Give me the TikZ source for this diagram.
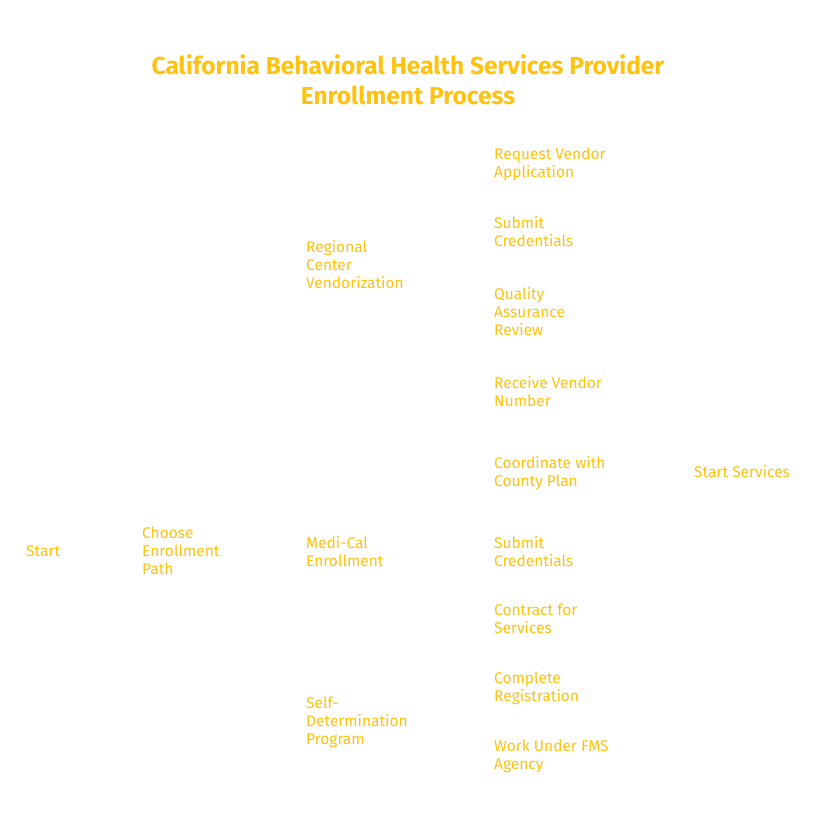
\documentclass[tikz,border=0pt]{standalone}
\usepackage{fontspec}
\setmainfont{Fira Sans}
\usetikzlibrary{positioning}
\definecolor{amber}{HTML}{FFC20E}
\tikzset{
    stage/.style={text=amber, anchor=north west, inner sep=0pt, align=left,
        font=\fontsize{15.5}{18}\selectfont},
    heading/.style={text=amber, inner sep=0pt, align=center,
        font=\fontsize{24.5}{30}\selectfont\bfseries}
}
\begin{document}
\begin{tikzpicture}[x=1pt, y=-1pt]
    \useasboundingbox (0,0) rectangle (824,821);
    \node[heading] (title) at (408,80) {California Behavioral Health Services Provider\\Enrollment Process};
    % first column
    \node[stage] (start) at (26,545) {Start};
    \node[stage] (choose) at (142,527) {Choose\\Enrollment\\Path};
    % paths
    \node[stage] (rc) at (306,240) {Regional\\Center\\Vendorization};
    \node[stage] (mc) at (306,536) {Medi-Cal\\Enrollment};
    \node[stage] (sd) at (306,697) {Self-\\Determination\\Program};
    % steps
    \node[stage] (rc1) at (494,148) {Request Vendor\\Application};
    \node[stage] (rc2) at (494,216) {Submit\\Credentials};
    \node[stage] (rc3) at (494,287) {Quality\\Assurance\\Review};
    \node[stage] (rc4) at (494,376) {Receive Vendor\\Number};
    \node[stage] (mc1) at (494,456) {Coordinate with\\County Plan};
    \node[stage] (mc2) at (494,536) {Submit\\Credentials};
    \node[stage] (mc3) at (494,604) {Contract for\\Services};
    \node[stage] (sd1) at (494,672) {Complete\\Registration};
    \node[stage] (sd2) at (494,740) {Work Under FMS\\Agency};
    \node[stage] (services) at (694,465) {Start Services};
\end{tikzpicture}
\end{document}
